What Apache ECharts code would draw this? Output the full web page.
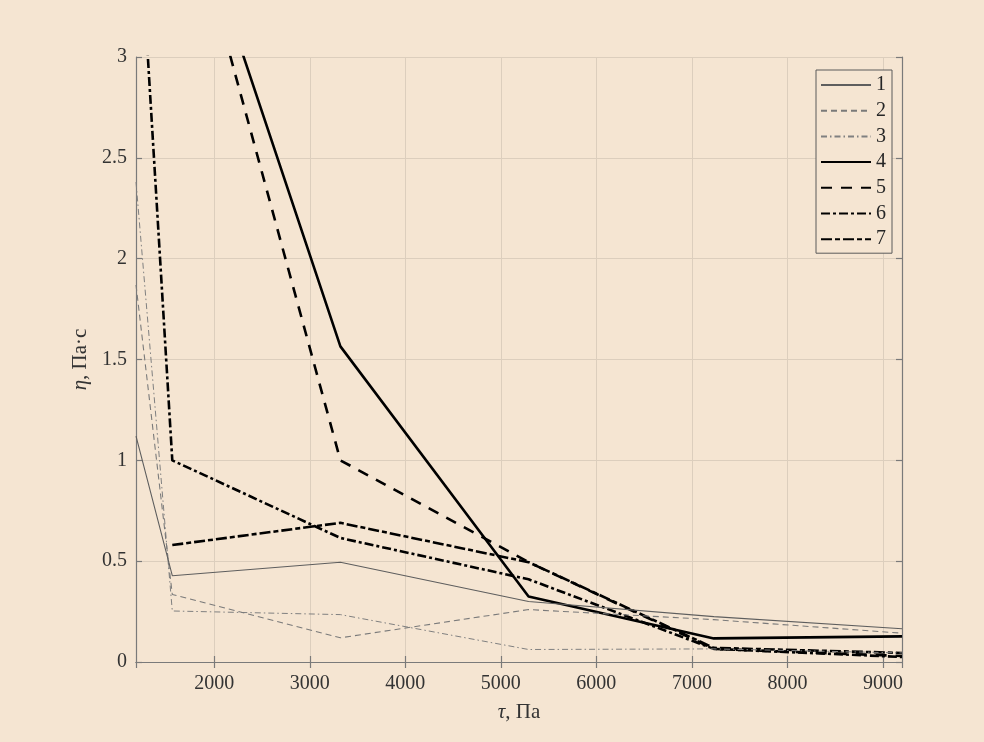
<!DOCTYPE html>
<html>
<head>
<meta charset="utf-8">
<script src="https://cdn.jsdelivr.net/npm/echarts@6/dist/echarts.min.js"></script>
<style>
html,body{margin:0;padding:0;background:#f5e5d2;}
#main{width:984px;height:742px;}
</style>
</head>
<body>
<div id="main"></div>
<script>
// x values (tau, Pa)
const tau = [1180, 1560, 3320, 5290, 7230, 9200];
// eta, Pa*s for each curve
const s1 = [1.12, 0.428, 0.495, 0.30, 0.225, 0.165];
const s2 = [1.87, 0.335, 0.12, 0.26, 0.21, 0.143];
const s3 = [2.38, 0.253, 0.235, 0.062, 0.065, 0.045];
const s4 = [null, 4.06, 1.565, 0.325, 0.117, 0.127];
const s5 = [null, 4.06, 1.0, 0.495, 0.065, 0.03];
const s6 = [3.97, 1.0, 0.615, 0.41, 0.065, 0.025];
const s7 = [null, 0.58, 0.69, 0.495, 0.07, 0.045];
const names = ['1', '2', '3', '4', '5', '6', '7'];
const yTicks = [0, 0.5, 1, 1.5, 2, 2.5, 3];

const serif = 'Liberation Serif';
const pair = arr => tau.map((x, i) => [x, arr[i]]);
const styles = [
  {color: '#5e5e5e', width: 1.1, type: 'solid'},
  {color: '#7a7a7a', width: 1.1, type: [6, 4]},
  {color: '#808080', width: 1.0, type: [6, 3, 1.5, 3]},
  {color: '#000000', width: 2.6, type: 'solid'},
  {color: '#000000', width: 2.6, type: [11, 9]},
  {color: '#000000', width: 2.6, type: [9, 3, 3, 3]},
  {color: '#000000', width: 2.6, type: [11, 3, 5, 3]}
];
const data = [s1, s2, s3, s4, s5, s6, s7];

const chart = echarts.init(document.getElementById('main'));
const axisLineStyle = {color: '#7a7a7a', width: 1.2};
chart.setOption({
  backgroundColor: '#f5e5d2',
  animation: false,
  grid: {left: 136, right: 82, top: 57, bottom: 80, containLabel: false},
  legend: {
    orient: 'vertical', left: 816, top: 70,
    itemWidth: 50, itemHeight: 14, itemGap: 5.7,
    padding: [5, 6, 4, 4],
    borderColor: '#5a5a5a', borderWidth: 1,
    backgroundColor: '#f5e5d2',
    itemStyle: {opacity: 0},
    textStyle: {fontFamily: serif, fontSize: 20, color: '#262626'},
    data: names
  },
  xAxis: [{
    type: 'value', min: 1180, max: 9200, splitNumber: 8,
    axisLine: {show: true, lineStyle: axisLineStyle},
    axisTick: {show: true, inside: true, length: 6, lineStyle: axisLineStyle},
    axisLabel: {fontFamily: serif, fontSize: 20, color: '#333', margin: 12, showMinLabel: false, showMaxLabel: false,
      formatter: v => String(v)},
    splitLine: {show: true, lineStyle: {color: '#dccebd', width: 1}},
    name: '{i|τ}, Па', nameLocation: 'middle', nameGap: 40,
    nameTextStyle: {fontFamily: serif, fontSize: 21, color: '#333', rich: {i: {fontFamily: serif, fontStyle: 'italic', fontSize: 21, color: '#333'}}}
  }, {
    type: 'value', position: 'top', min: 1180, max: 9200, splitNumber: 8,
    axisLine: {show: true, lineStyle: axisLineStyle},
    axisTick: {show: true, inside: true, length: 6, lineStyle: axisLineStyle},
    axisLabel: {show: false}, splitLine: {show: false}
  }],
  yAxis: [{
    type: 'value', min: yTicks[0], max: yTicks[yTicks.length - 1], interval: 0.5,
    axisLine: {show: true, lineStyle: axisLineStyle},
    axisTick: {show: true, inside: true, length: 6, lineStyle: axisLineStyle},
    axisLabel: {fontFamily: serif, fontSize: 20, color: '#333', margin: 9},
    splitLine: {show: true, lineStyle: {color: '#dccebd', width: 1}},
    name: '{i|η}, Па·с', nameLocation: 'middle', nameGap: 44, nameRotate: 90,
    nameTextStyle: {fontFamily: serif, fontSize: 21, color: '#333', rich: {i: {fontFamily: serif, fontStyle: 'italic', fontSize: 21, color: '#333'}}}
  }, {
    type: 'value', position: 'right', min: 0, max: 3, interval: 0.5,
    axisLine: {show: true, lineStyle: axisLineStyle},
    axisTick: {show: true, inside: true, length: 6, lineStyle: axisLineStyle},
    axisLabel: {show: false}, splitLine: {show: false}
  }],
  series: data.map((d, i) => ({
    name: names[i], type: 'line', xAxisIndex: 0, yAxisIndex: 0,
    data: pair(d), symbol: 'none', clip: true, connectNulls: false,
    lineStyle: styles[i], itemStyle: {color: styles[i].color},
    z: 10 - i
  }))
});
</script>
</body>
</html>
